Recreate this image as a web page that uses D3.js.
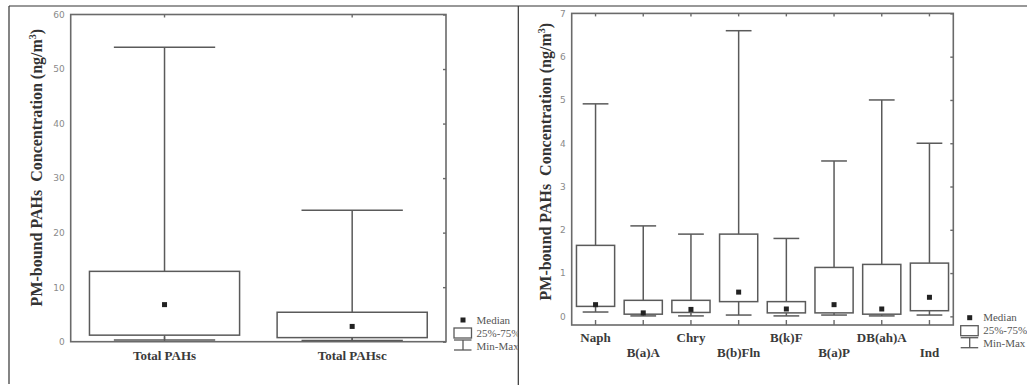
<!DOCTYPE html>
<html>
<head>
<meta charset="utf-8">
<script src="https://cdn.jsdelivr.net/npm/d3@7"></script>
<style>
  body { margin: 0; background: #fff; }
  svg text { white-space: pre; }
</style>
</head>
<body>
<div class="container"></div>
<script>
const WIDTH = 1027;
const HEIGHT = 385;

// left panel: totals
var totalCategories = ["Total PAHs", "Total PAHsc"];
var totalMin    = [0.3, 0.2];
var totalQ1     = [1.2, 0.75];
var totalMedian = [6.8, 2.8];
var totalQ3     = [12.9, 5.4];
var totalMax    = [54, 24.1];
var totalTicks  = [0, 10, 20, 30, 40, 50, 60];

// right panel: individual compounds
var pahCategories = ["Naph", "B(a)A", "Chry", "B(b)Fln", "B(k)F", "B(a)P", "DB(ah)A", "Ind"];
var pahMin    = [0.10, 0.01, 0.01, 0.03, 0.01, 0.03, 0.01, 0.03];
var pahQ1     = [0.23, 0.05, 0.09, 0.34, 0.08, 0.08, 0.05, 0.13];
var pahMedian = [0.27, 0.08, 0.16, 0.56, 0.17, 0.27, 0.17, 0.44];
var pahQ3     = [1.64, 0.37, 0.37, 1.90, 0.34, 1.13, 1.20, 1.23];
var pahMax    = [4.91, 2.09, 1.90, 6.60, 1.80, 3.59, 5.00, 4.00];
var pahTicks  = [0, 1, 2, 3, 4, 5, 6, 7];

var legendLabels = ["Median", "25%-75%", "Min-Max"];

const FRAME = "#6a6a6a";
const BOXCOL = "#5a5a5a";
const SERIF = "'Liberation Serif', 'Times New Roman', serif";

var translate = function(x, y){
    return "translate(" + x + "," + y + ")";
};

var zip = function(cats, mn, q1, md, q3, mx){
    return cats.map(function(c, i){
        return {cat: c, min: mn[i], q1: q1[i], med: md[i], q3: q3[i], max: mx[i]};
    });
};

var svg = d3.select('.container').append('svg')
    .attr('width', WIDTH)
    .attr('height', HEIGHT);

// page borders
svg.append('line').attr('x1', 9).attr('x2', WIDTH).attr('y1', 6).attr('y2', 6)
    .attr('stroke', '#333').attr('stroke-width', 1.2);
svg.append('line').attr('x1', 9).attr('x2', 9).attr('y1', 6).attr('y2', 384)
    .attr('stroke', '#333').attr('stroke-width', 1.2);
svg.append('line').attr('x1', 518.3).attr('x2', 518.3).attr('y1', 6).attr('y2', HEIGHT)
    .attr('stroke', '#333').attr('stroke-width', 1.2);

svg.append('defs').append('clipPath').attr('id', 'leftclip')
    .append('rect').attr('x', 0).attr('y', 0).attr('width', 517.5).attr('height', HEIGHT);

var drawPanel = function(cfg){
    var g = svg.append('g');
    if (cfg.clip) g.attr('clip-path', 'url(#' + cfg.clip + ')');

    var x = d3.scaleBand().domain(cfg.data.map(function(d){ return d.cat; }))
        .range([cfg.left, cfg.right]).padding(0);
    var y = d3.scaleLinear().domain(cfg.domain).range([cfg.bottom, cfg.top]);
    var bw = x.bandwidth();

    // frame
    g.append('rect')
        .attr('x', cfg.left).attr('y', cfg.top)
        .attr('width', cfg.right - cfg.left).attr('height', cfg.bottom - cfg.top)
        .attr('fill', 'none').attr('stroke', FRAME).attr('stroke-width', 1.6);

    // left tick labels
    var yAxis = d3.axisLeft(y).tickValues(cfg.ticks).tickSize(0).tickPadding(6);
    var ya = g.append('g').attr('transform', translate(cfg.left, 0)).call(yAxis);
    ya.select('.domain').remove();
    ya.selectAll('text').attr('fill', '#8a8a8a').style('font-family', "'DejaVu Sans', sans-serif")
        .style('font-size', '9px');

    // inward ticks on right, top and bottom
    var ra = g.append('g').attr('transform', translate(cfg.right, 0))
        .call(d3.axisRight(y).tickValues(cfg.ticks).tickSize(-3).tickFormat(''));
    ra.select('.domain').remove();
    ra.selectAll('line').attr('stroke', FRAME).attr('stroke-width', 1.4);

    var ta = g.append('g').attr('transform', translate(0, cfg.top))
        .call(d3.axisTop(x).tickSize(-3).tickFormat(''));
    ta.select('.domain').remove();
    ta.selectAll('line').attr('stroke', FRAME).attr('stroke-width', 1.4);

    var ba = g.append('g').attr('transform', translate(0, cfg.bottom))
        .call(d3.axisBottom(x).tickSize(-5).tickFormat(''));
    ba.select('.domain').remove();
    ba.selectAll('line').attr('stroke', FRAME).attr('stroke-width', 1.4);

    // category labels
    g.append('g').selectAll('text')
        .data(cfg.data)
        .enter()
        .append('text')
        .attr('x', function(d){ return x(d.cat) + bw / 2; })
        .attr('y', function(d, i){ return cfg.labelY[i % cfg.labelY.length]; })
        .attr('text-anchor', 'middle')
        .attr('fill', '#3a3a3a')
        .style('font-family', SERIF).style('font-weight', 'bold').style('font-size', '13px')
        .text(function(d){ return d.cat; });

    // boxes
    var boxes = g.append('g').selectAll('g')
        .data(cfg.data)
        .enter()
        .append('g')
        .attr('transform', function(d){ return translate(x(d.cat) + bw / 2, 0); });

    var hb = bw * 0.4, hc = bw * 0.27;
    boxes.append('line').attr('x1', 0).attr('x2', 0)
        .attr('y1', function(d){ return y(d.q3); }).attr('y2', function(d){ return y(d.max); })
        .attr('stroke', BOXCOL).attr('stroke-width', 1.5);
    boxes.append('line').attr('x1', 0).attr('x2', 0)
        .attr('y1', function(d){ return y(d.q1); }).attr('y2', function(d){ return y(d.min); })
        .attr('stroke', BOXCOL).attr('stroke-width', 1.5);
    boxes.append('line').attr('x1', -hc).attr('x2', hc)
        .attr('y1', function(d){ return y(d.max); }).attr('y2', function(d){ return y(d.max); })
        .attr('stroke', BOXCOL).attr('stroke-width', 1.5);
    boxes.append('line').attr('x1', -hc).attr('x2', hc)
        .attr('y1', function(d){ return y(d.min); }).attr('y2', function(d){ return y(d.min); })
        .attr('stroke', BOXCOL).attr('stroke-width', 1.5);
    boxes.append('rect')
        .attr('x', -hb).attr('width', 2 * hb)
        .attr('y', function(d){ return y(d.q3); })
        .attr('height', function(d){ return y(d.q1) - y(d.q3); })
        .attr('fill', '#fff').attr('stroke', BOXCOL).attr('stroke-width', 1.5);
    boxes.append('rect')
        .attr('x', -2.5).attr('width', 5).attr('height', 5)
        .attr('y', function(d){ return y(d.med) - 2.5; })
        .attr('fill', '#222');

    // y title
    var tx = cfg.left + cfg.titleDx, ty = (cfg.top + cfg.bottom) / 2 + cfg.titleDy;
    var title = g.append('text')
        .attr('transform', translate(tx, ty) + ' rotate(-90)')
        .attr('text-anchor', 'middle')
        .attr('fill', '#333')
        .style('font-family', SERIF).style('font-weight', 'bold').style('font-size', '16px');
    title.append('tspan').text('PM-bound PAHs  Concentration (ng/m');
    title.append('tspan').attr('dy', -6).style('font-size', '10px').text('3');
    title.append('tspan').attr('dy', 6).text(')');

    // legend
    var lx = cfg.right + cfg.legendDx, ly = cfg.legendY;
    var lg = g.append('g').attr('transform', translate(lx, ly));
    lg.append('rect').attr('x', 6.5).attr('y', -2.5).attr('width', 5).attr('height', 5).attr('fill', '#222');
    lg.append('rect').attr('x', 0).attr('y', 8).attr('width', 17.5).attr('height', 10)
        .attr('fill', '#fff').attr('stroke', BOXCOL).attr('stroke-width', 1.3);
    lg.append('line').attr('x1', 0).attr('x2', 17.5).attr('y1', 20).attr('y2', 20)
        .attr('stroke', BOXCOL).attr('stroke-width', 1.3);
    lg.append('line').attr('x1', 9).attr('x2', 9).attr('y1', 20).attr('y2', 30)
        .attr('stroke', BOXCOL).attr('stroke-width', 1.3);
    lg.append('line').attr('x1', 0).attr('x2', 17.5).attr('y1', 30).attr('y2', 30)
        .attr('stroke', BOXCOL).attr('stroke-width', 1.3);
    lg.selectAll('text.leg')
        .data(legendLabels)
        .enter()
        .append('text')
        .attr('class', 'leg')
        .attr('x', 22.5)
        .attr('y', function(d, i){ return [0, 13, 26][i] + 3.5; })
        .attr('fill', '#555')
        .style('font-family', SERIF).style('font-size', '11px')
        .text(function(d){ return d; });
};

drawPanel({
    data: zip(totalCategories, totalMin, totalQ1, totalMedian, totalQ3, totalMax),
    ticks: totalTicks, domain: [0, 60],
    left: 70.7, right: 446, top: 14.5, bottom: 341.7,
    labelY: [359.5],
    titleDx: -28.5, titleDy: -10.5,
    legendDx: 8, legendY: 320,
    clip: 'leftclip'
});

drawPanel({
    data: zip(pahCategories, pahMin, pahQ1, pahMedian, pahQ3, pahMax),
    ticks: pahTicks, domain: [-0.2, 7],
    left: 571.7, right: 953.3, top: 13.4, bottom: 325,
    labelY: [341.5, 357],
    titleDx: -21, titleDy: -7.5,
    legendDx: 7.4, legendY: 317.7
});
</script>
</body>
</html>
